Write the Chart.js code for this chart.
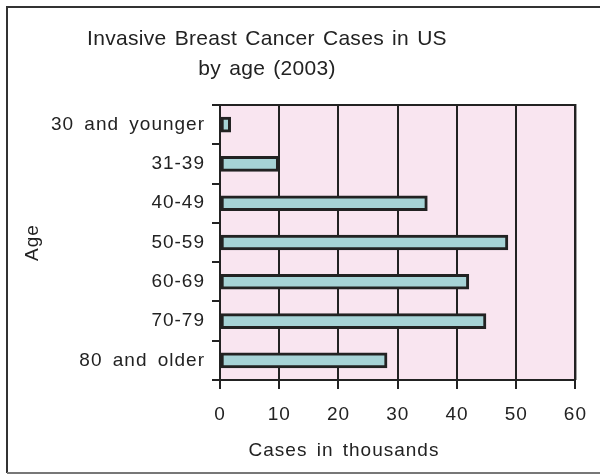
<!DOCTYPE html>
<html lang="en">
<head>
  <meta charset="UTF-8">
  <title>Invasive Breast Cancer Cases in US</title>
  <script src="https://cdn.jsdelivr.net/npm/chart.js"></script>
  <style>
    body {
      margin: 0;
      background: #ffffff;
    }
    #wrap {
      width: 600px;
      height: 474px;
    }
  </style>
</head>
<body>
  <div id="wrap"><canvas id="cancerChart" width="600" height="474"></canvas></div>

  <script>
    const ageGroups = ['30 and younger', '31-39', '40-49', '50-59', '60-69', '70-79', '80 and older'];
    const cases = [1.8, 9.9, 35, 48.6, 42, 44.9, 28.2];
    const titleLines = ['Invasive Breast Cancer Cases in US', 'by age (2003)'];
    const xTitle = 'Cases in thousands';

    const ink = '#222222';
    const fontName = '"Liberation Sans", Arial, sans-serif';

    // pink plot background, frame, title and x-axis caption
    const decor = {
      id: 'decor',
      beforeDraw(chart) {
        const { ctx, chartArea: a } = chart;
        // the original uses slightly loose letter/word spacing
        ctx.letterSpacing = '1px';
        ctx.wordSpacing = '4px';
        ctx.save();
        ctx.fillStyle = '#f9e5f0';
        ctx.fillRect(a.left, a.top, a.right - a.left, a.bottom - a.top);
        ctx.restore();
      },
      afterDraw(chart) {
        const { ctx, chartArea: a } = chart;
        ctx.save();
        ctx.strokeStyle = ink;
        ctx.lineWidth = 2;
        ctx.beginPath();
        ctx.moveTo(a.left - 8, a.top);
        ctx.lineTo(a.right, a.top);
        ctx.lineTo(a.right, a.bottom);
        ctx.stroke();

        // outer box
        ctx.strokeStyle = '#333333';
        ctx.beginPath();
        ctx.moveTo(600, 7);
        ctx.lineTo(7, 7);
        ctx.lineTo(7, 473);
        ctx.stroke();
        ctx.strokeStyle = '#777777';
        ctx.beginPath();
        ctx.moveTo(7, 473);
        ctx.lineTo(600, 473);
        ctx.stroke();

        ctx.fillStyle = ink;
        ctx.textAlign = 'center';
        ctx.textBaseline = 'middle';
        ctx.letterSpacing = '0.3px';
        ctx.wordSpacing = '2px';
        ctx.font = '21px ' + fontName;
        ctx.fillText(titleLines[0], 267, 39);
        ctx.fillText(titleLines[1], 267, 69);

        ctx.letterSpacing = '1px';
        ctx.wordSpacing = '3px';
        ctx.font = '19px ' + fontName;
        ctx.fillText(xTitle, 344, 451);
        ctx.restore();
      }
    };

    const ctx = document.getElementById('cancerChart').getContext('2d');
    new Chart(ctx, {
      type: 'bar',
      data: {
        labels: ageGroups,
        datasets: [{
          label: xTitle,
          data: cases,
          backgroundColor: '#a6d3d6',
          borderColor: ink,
          borderWidth: 3,
          borderSkipped: false,
          barThickness: 15
        }]
      },
      options: {
        indexAxis: 'y',
        responsive: false,
        animation: false,
        layout: {
          padding: { left: 20, right: 24, top: 105, bottom: 0 }
        },
        plugins: {
          legend: { display: false },
          tooltip: { enabled: false },
          title: { display: false }
        },
        scales: {
          x: {
            min: 0,
            max: 60,
            ticks: {
              stepSize: 10,
              color: ink,
              padding: 14,
              font: { family: fontName, size: 19 }
            },
            grid: {
              color: ink,
              lineWidth: 2,
              tickLength: 9
            },
            border: { color: ink, width: 2 },
            afterFit(scale) {
              scale.height = 94;
            }
          },
          y: {
            ticks: {
              color: ink,
              padding: 7,
              font: { family: fontName, size: 19 }
            },
            grid: {
              color: ink,
              lineWidth: 2,
              drawOnChartArea: false,
              tickLength: 8
            },
            border: { color: ink, width: 2 },
            title: {
              display: true,
              text: 'Age',
              color: ink,
              font: { family: fontName, size: 19 },
              padding: { top: 1, bottom: 0 }
            },
            afterFit(scale) {
              scale.width = 200;
            }
          }
        }
      },
      plugins: [decor]
    });
  </script>
</body>
</html>
